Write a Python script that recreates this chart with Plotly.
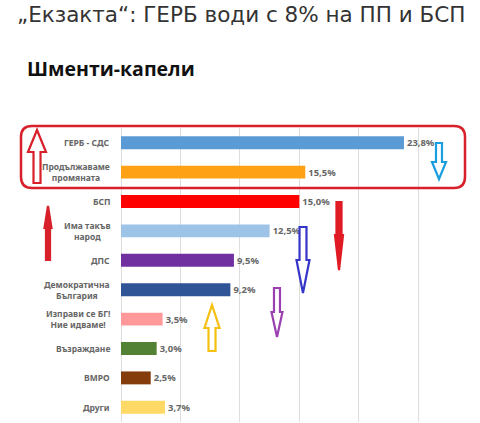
import plotly.graph_objects as go

W, H = 480, 423

parties = [
    "ГЕРБ - СДС",
    "Продължаваме<br>промяната",
    "БСП",
    "Има такъв<br>народ",
    "ДПС",
    "Демократична<br>България",
    "Изправи се БГ!<br>Ние идваме!",
    "Възраждане",
    "ВМРО",
    "Други",
]
values = [23.8, 15.5, 15.0, 12.5, 9.5, 9.2, 3.5, 3.0, 2.5, 3.7]
colors = ["#5b9bd5", "#ffa114", "#ff0000", "#9dc3e6", "#7030a0",
          "#2f5597", "#ff9999", "#548235", "#843c0c", "#ffd966"]
value_text = [f"{v:.1f}%".replace(".", ",") for v in values]

title = "„Екзакта“: ГЕРБ води с 8% на ПП и БСП"
subtitle = "Шменти-капели"


def px(x):
    return x / W


def py(y):
    return 1 - y / H


def arrow(cx, tail, head, sw, hw, hl):
    # vertical block arrow, pixel coords
    s = 1 if tail > head else -1
    base = head + hl * s
    pts = [(cx - sw / 2, tail), (cx - sw / 2, base), (cx - hw / 2, base),
           (cx, head), (cx + hw / 2, base), (cx + sw / 2, base),
           (cx + sw / 2, tail)]
    d = "M " + " L ".join(f"{px(a):.4f},{py(b):.4f}" for a, b in pts) + " Z"
    return d


def rounded_box(x0, y0, x1, y1, r):
    d = (f"M {px(x0 + r)},{py(y0)} L {px(x1 - r)},{py(y0)} "
         f"Q {px(x1)},{py(y0)} {px(x1)},{py(y0 + r)} "
         f"L {px(x1)},{py(y1 - r)} Q {px(x1)},{py(y1)} {px(x1 - r)},{py(y1)} "
         f"L {px(x0 + r)},{py(y1)} Q {px(x0)},{py(y1)} {px(x0)},{py(y1 - r)} "
         f"L {px(x0)},{py(y0 + r)} Q {px(x0)},{py(y0)} {px(x0 + r)},{py(y0)} Z")
    return d


fig = go.Figure()
fig.add_trace(go.Bar(
    x=values, y=parties, orientation="h",
    marker=dict(color=colors, line=dict(width=0)),
    text=value_text, textposition="outside", cliponaxis=False,
    textfont=dict(family="Noto Sans", size=9.5, color="#666666", weight="bold"),
    hoverinfo="skip",
))

fig.update_layout(
    width=W, height=H,
    margin=dict(l=0, r=0, t=0, b=0),
    paper_bgcolor="white", plot_bgcolor="white",
    showlegend=False, bargap=0.56,
    xaxis=dict(domain=[px(121), px(442)], range=[0, 27], dtick=5, tick0=0,
               showgrid=True, gridcolor="#dedede", gridwidth=1,
               zeroline=True, zerolinecolor="#dedede", zerolinewidth=1,
               showticklabels=False, showline=False, fixedrange=True),
    yaxis=dict(domain=[py(422), py(128)], autorange="reversed",
               showticklabels=False, showgrid=False, zeroline=False,
               showline=False, fixedrange=True),
)

# category labels, centred lines, right edge at the axis
for p in parties:
    fig.add_annotation(x=px(112), y=p, xref="paper", yref="y",
                       text=p, showarrow=False, xanchor="right", align="center",
                       font=dict(family="Noto Sans", size=8.5, color="#666666",
                                 weight="bold"))

fig.add_annotation(x=px(15), y=py(0), xref="paper", yref="paper",
                   text=title, showarrow=False, xanchor="left", yanchor="top",
                   font=dict(family="DejaVu Sans", size=21.5, color="#333333"))
fig.add_annotation(x=px(25), y=py(68), xref="paper", yref="paper",
                   text=f"<b>{subtitle}</b>", showarrow=False,
                   xanchor="left", yanchor="middle",
                   font=dict(family="Open Sans", size=19.5, color="#111111"))

shapes = [dict(type="path", xref="paper", yref="paper",
               path=rounded_box(21, 126, 465, 188, 11),
               line=dict(color="#d7202a", width=2.5), fillcolor="rgba(0,0,0,0)")]

# hand-drawn arrows: (cx, tail, head, shaft, head width, head len, colour, filled)
arrows = [
    (37, 183, 130, 7, 18, 22, "#d7202a", False),
    (48, 260, 206, 4, 7, 22, "#d7202a", True),
    (339, 202, 270, 5, 8, 35, "#e01b24", True),
    (303, 227, 293, 7, 13, 33, "#3535c8", False),
    (277, 288, 337, 6, 11, 25, "#9b40b0", False),
    (439, 143, 179, 6, 14, 17, "#1b9ee0", False),
    (212, 351, 305, 7, 15, 23, "#f5c010", False),
]
for cx, tail, head, sw, hw, hl, col, filled in arrows:
    shapes.append(dict(type="path", xref="paper", yref="paper",
                       path=arrow(cx, tail, head, sw, hw, hl),
                       line=dict(color=col, width=2.2),
                       fillcolor=col if filled else "white"))
fig.update_layout(shapes=shapes)

# drop the browser's default body margin so the figure sits at 0,0
fig.write_html("out.html", config={"displayModeBar": False},
               post_script="document.body.style.margin='0';")
